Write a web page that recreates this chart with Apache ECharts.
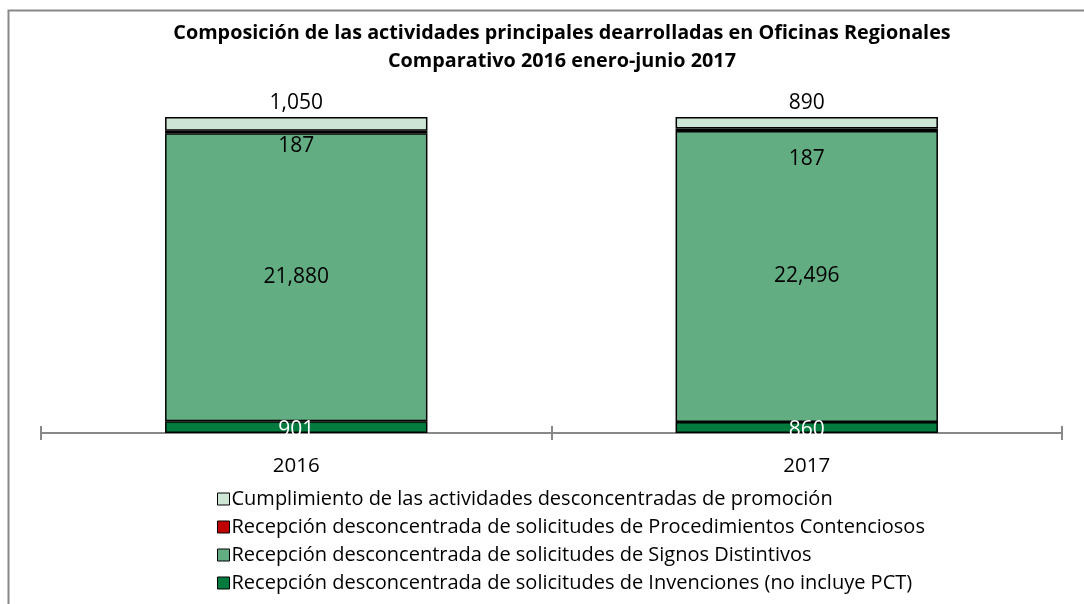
<!DOCTYPE html>
<html>
<head>
<meta charset="utf-8">
<script src="https://cdn.jsdelivr.net/npm/echarts@6/dist/echarts.min.js"></script>
<style>
  html, body { margin: 0; padding: 0; background: #fff; }
  #chart { width: 1084px; height: 604px; }
</style>
</head>
<body>
<div id="chart"></div>
<script>
// datos
var years = ['2016', '2017'];
var invenciones = [901, 860];
var signos = [21880, 22496];
var contenciosos = [187, 187];
var promocion = [1050, 890];

var seriesNames = [
  'Recepción desconcentrada de solicitudes de Invenciones (no incluye PCT)',
  'Recepción desconcentrada de solicitudes de Signos Distintivos',
  'Recepción desconcentrada de solicitudes de Procedimientos Contenciosos',
  'Cumplimiento de las actividades desconcentradas de promoción'
];
var colorList = ['#007a3d', '#63ad83', '#c00000', '#cde5d5'];

var FONT = 'Open Sans';

var totals = years.map(function (y, i) {
  return invenciones[i] + signos[i] + contenciosos[i] + promocion[i];
});

// 100% apilado: valor en porcentaje, etiqueta con el valor real
function pct(arr, offsets) {
  return arr.map(function (v, i) {
    var d = { value: v / totals[i] * 100, raw: v };
    if (offsets) d.label = { offset: offsets[i] };
    return d;
  });
}

function fmt(p) {
  return p.data.raw.toLocaleString('en-US');
}

var labelBase = { show: true, formatter: fmt, fontFamily: FONT, fontSize: 21, color: '#000' };

function makeSeries(idx, arr, label, offsets) {
  return {
    name: seriesNames[idx],
    type: 'bar',
    stack: 'total',
    barWidth: '51.4%',
    data: pct(arr, offsets),
    itemStyle: { color: colorList[idx], borderColor: '#000', borderWidth: 1.5 },
    label: Object.assign({}, labelBase, label)
  };
}

var chart = echarts.init(document.getElementById('chart'));
var option = {
  animation: false,
  title: {
    text: 'Composición de las actividades principales dearrolladas en Oficinas Regionales\nComparativo 2016 enero-junio 2017',
    left: 562,
    top: 19,
    padding: 0,
    textAlign: 'center',
    textStyle: { fontFamily: FONT, fontSize: 19.8, fontWeight: 'bold', color: '#000', lineHeight: 28 }
  },
  legend: {
    orient: 'vertical',
    left: 212,
    top: 483,
    icon: 'rect',
    itemWidth: 12,
    itemHeight: 12,
    itemGap: 6,
    data: seriesNames.slice().reverse(),
    itemStyle: { borderColor: '#000', borderWidth: 1 },
    textStyle: { fontFamily: FONT, fontSize: 20, color: '#000', padding: [0, 0, 0, -3], lineHeight: 22 }
  },
  graphic: [{
    type: 'polyline',
    shape: { points: [[8.5, 604], [8.5, 10.5], [1084, 10.5]] },
    style: { stroke: '#888', lineWidth: 2, fill: null }
  }],
  grid: { left: 41, right: 22, top: 117, bottom: 171 },
  xAxis: [{
    type: 'category',
    data: years,
    axisLine: { lineStyle: { color: '#888', width: 2 } },
    axisTick: { show: true, length: 7, lineStyle: { color: '#888', width: 2 } },
    axisLabel: { fontFamily: FONT, fontSize: 20.5, color: '#000', margin: 23 }
  }, {
    type: 'category',
    data: years,
    position: 'bottom',
    axisLine: { show: false },
    axisTick: { show: true, inside: true, length: 7, lineStyle: { color: '#888', width: 2 } },
    axisLabel: { show: false }
  }],
  yAxis: {
    type: 'value',
    min: 0,
    max: 100,
    show: false,
    splitLine: { show: false }
  },
  series: [
    makeSeries(0, invenciones, { position: 'inside', color: '#fff', offset: [0, 3] }),
    makeSeries(1, signos, { position: 'inside' }),
    makeSeries(2, contenciosos, { position: 'bottom', distance: 0 }, [[0, 2], [0, 18]]),
    makeSeries(3, promocion, { position: 'top', distance: 3 })
  ]
};
chart.setOption(option);
</script>
</body>
</html>
